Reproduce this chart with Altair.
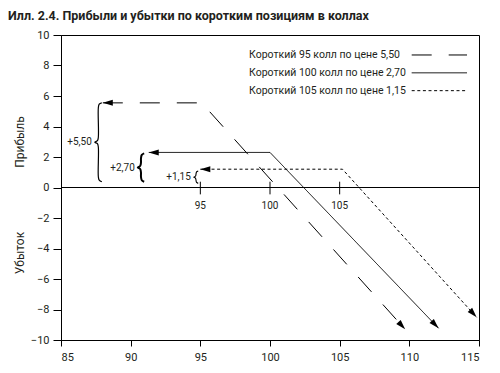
import math
import altair as alt
import pandas as pd

# ---------------- data ----------------
TITLE = "Илл. 2.4. Прибыли и убытки по коротким позициям в коллах"
series = [
    "Короткий 95 колл по цене 5,50",
    "Короткий 100 колл по цене 2,70",
    "Короткий 105 колл по цене 1,15",
]
strikes = [95, 100, 105]
premium_labels = ["+5,50", "+2,70", "+1,15"]

# payoff polylines as drawn: left arrow tip, knee at strike, right arrow tip
s95_x = [88.0, 95.1, 109.7]
s95_y = [5.55, 5.55, -9.3]
s100_x = [91.3, 100.0, 112.1]
s100_y = [2.3, 2.3, -9.23]
s105_x = [95.0, 105.2, 114.83]
s105_y = [1.2, 1.2, -8.51]

# braces marking the premium received
brace_x = [87.68, 90.74, 94.69]
brace_lo = [0.38, 0.38, 0.27]
brace_hi = [5.56, 2.24, 1.08]

x_ticks = [85, 90, 95, 100, 105, 110, 115]
y_ticks = [-10, -8, -6, -4, -2, 0, 2, 4, 6, 8, 10]

# ---------------- layout / style ----------------
W, H = 418, 305
X_DOM, Y_DOM = [85, 115], [-10, 10]
PXX = W / (X_DOM[1] - X_DOM[0])
PXY = H / (Y_DOM[1] - Y_DOM[0])
FONT = "Roboto"
dashes = [[20, 17], [1, 0], [3, 2.6]]
brace_w_px = [3.5, 3.2, 2.2]
brace_sw = [1.2, 2.0, 1.1]
ARROW = "M0,0 L-2,-0.6 L-2,0.6 Z"

xs_all = [s95_x, s100_x, s105_x]
ys_all = [s95_y, s100_y, s105_y]

rows, arrows = [], []
for s, xs, ys in zip(series, xs_all, ys_all):
    for i, (x, y) in enumerate(zip(xs, ys)):
        rows.append({"series": s, "x": x, "y": y, "i": i})
    arrows.append({"series": s, "x": xs[0], "y": ys[0], "ang": 180.0})
    dxp = (xs[-1] - xs[-2]) * PXX
    dyp = (ys[-2] - ys[-1]) * PXY
    arrows.append({"series": s, "x": xs[-1], "y": ys[-1],
                   "ang": math.degrees(math.atan2(dyp, dxp))})
lines_df = pd.DataFrame(rows)
arrows_df = pd.DataFrame(arrows)

brace_rows, brace_lab = [], []
for k, (bx, lo, hi, lab) in enumerate(zip(brace_x, brace_lo, brace_hi, premium_labels)):
    w = brace_w_px[k] / PXX
    hpx = (hi - lo) * PXY
    c = min(5.0, hpx / 4.0) / PXY
    m = (lo + hi) / 2
    pts = [
        (w, hi), (w * 0.25, hi - c * 0.3), (0, hi - c), (0, m + c),
        (-w * 0.25, m + c * 0.3), (-w, m), (-w * 0.25, m - c * 0.3),
        (0, m - c), (0, lo + c), (w * 0.25, lo + c * 0.3), (w, lo),
    ]
    for i, (dx, y) in enumerate(pts):
        brace_rows.append({"b": lab, "x": bx + dx, "y": y, "i": i, "sw": brace_sw[k]})
    brace_lab.append({"x": bx - w - 3.0 / PXX, "y": m, "t": lab})
brace_df = pd.DataFrame(brace_rows)
brace_lab_df = pd.DataFrame(brace_lab)

strike_df = pd.DataFrame({"x": strikes, "lo": [-0.45] * 3, "hi": [0.38] * 3,
                          "t": [str(s) for s in strikes], "ly": [-1.2] * 3})
zero_df = pd.DataFrame({"x": [X_DOM[0]], "x2": [X_DOM[1]], "y": [0]})

LEG_X_TEXT, LEG_X0, LEG_X1 = 98.5, 110.17, 114.14
LEG_Y = [8.69, 7.52, 6.35]
legend_df = pd.DataFrame({"series": series, "y": LEG_Y,
                          "x": [LEG_X_TEXT] * 3, "x0": [LEG_X0] * 3, "x1": [LEG_X1] * 3})

xs = alt.Scale(domain=X_DOM, nice=False, zero=False)
ys = alt.Scale(domain=Y_DOM, nice=False, zero=False)
dash_scale = alt.Scale(domain=series, range=dashes)

base_x = alt.X("x:Q", scale=xs, title=None,
               axis=alt.Axis(values=x_ticks, tickCount=len(x_ticks), tickSize=6,
                             labelPadding=5, grid=False, labelFontSize=11, format="d",
                             labelOverlap=False))
base_y = alt.Y("y:Q", scale=ys, title=None,
               axis=alt.Axis(values=y_ticks, tickCount=len(y_ticks), tickSize=8,
                             labelPadding=4, grid=False, labelFontSize=11, format="d",
                             labelOverlap=False))

zero_line = alt.Chart(zero_df).mark_rule(color="black", strokeWidth=1).encode(
    x=base_x, x2="x2:Q", y=base_y)

strike_ticks = alt.Chart(strike_df).mark_rule(color="black", strokeWidth=1).encode(
    x="x:Q", y="lo:Q", y2="hi:Q")
strike_text = alt.Chart(strike_df).mark_text(font=FONT, fontSize=10, color="#231f20",
                                             baseline="middle").encode(
    x="x:Q", y="ly:Q", text="t:N")

payoff = alt.Chart(lines_df).mark_line(color="black", strokeWidth=1).encode(
    x="x:Q", y="y:Q", order="i:Q",
    strokeDash=alt.StrokeDash("series:N", scale=dash_scale, legend=None))

heads = alt.Chart(arrows_df).mark_point(shape=ARROW, size=100, filled=True,
                                        color="black", opacity=1, strokeWidth=0).encode(
    x="x:Q", y="y:Q", angle=alt.Angle("ang:Q", scale=None))

braces = alt.Chart(brace_df).mark_line(color="black", interpolate="catmull-rom").encode(
    x="x:Q", y="y:Q", order="i:Q", detail="b:N",
    strokeWidth=alt.StrokeWidth("sw:Q", scale=None))
brace_text = alt.Chart(brace_lab_df).mark_text(font=FONT, fontSize=10, align="right",
                                               baseline="middle", color="#231f20").encode(
    x="x:Q", y="y:Q", text="t:N")

leg_text = alt.Chart(legend_df).mark_text(font=FONT, fontSize=10.5, align="left",
                                          baseline="middle", color="#231f20").encode(
    x="x:Q", y="y:Q", text="series:N")
leg_lines = alt.Chart(legend_df).mark_rule(color="black", strokeWidth=1).encode(
    x="x0:Q", x2="x1:Q", y="y:Q",
    strokeDash=alt.StrokeDash("series:N", scale=dash_scale, legend=None))

ylab_profit = alt.Chart(pd.DataFrame({"t": ["Прибыль"]})).mark_text(
    font=FONT, fontSize=12, angle=270, baseline="middle", align="center", color="#231f20"
).encode(x=alt.value(-41), y=alt.value(107), text="t:N")
ylab_loss = alt.Chart(pd.DataFrame({"t": ["Убыток"]})).mark_text(
    font=FONT, fontSize=12, angle=270, baseline="middle", align="center", color="#231f20"
).encode(x=alt.value(-41), y=alt.value(218), text="t:N")

title_mark = alt.Chart(pd.DataFrame({"t": [TITLE]})).mark_text(
    font=FONT, fontSize=12.5, fontWeight="bold", align="left", baseline="alphabetic",
    color="#231f20"
).encode(x=alt.value(-53), y=alt.value(-15), text="t:N")

chart = alt.layer(
    zero_line, strike_ticks, strike_text, payoff, heads, braces, brace_text,
    leg_text, leg_lines, ylab_profit, ylab_loss, title_mark,
).properties(
    width=W, height=H,
    autosize=alt.AutoSizeParams(type="none"),
    padding={"left": 53, "top": 27, "right": 12, "bottom": 23},
).configure_view(stroke="black", strokeWidth=1).configure_axis(
    labelFont=FONT, labelColor="#231f20", tickColor="black", domainColor="black",
    tickWidth=1, domainWidth=1, labelOverlap=False,
)

chart.save("out.html", embed_options={"renderer": "svg", "actions": False})
